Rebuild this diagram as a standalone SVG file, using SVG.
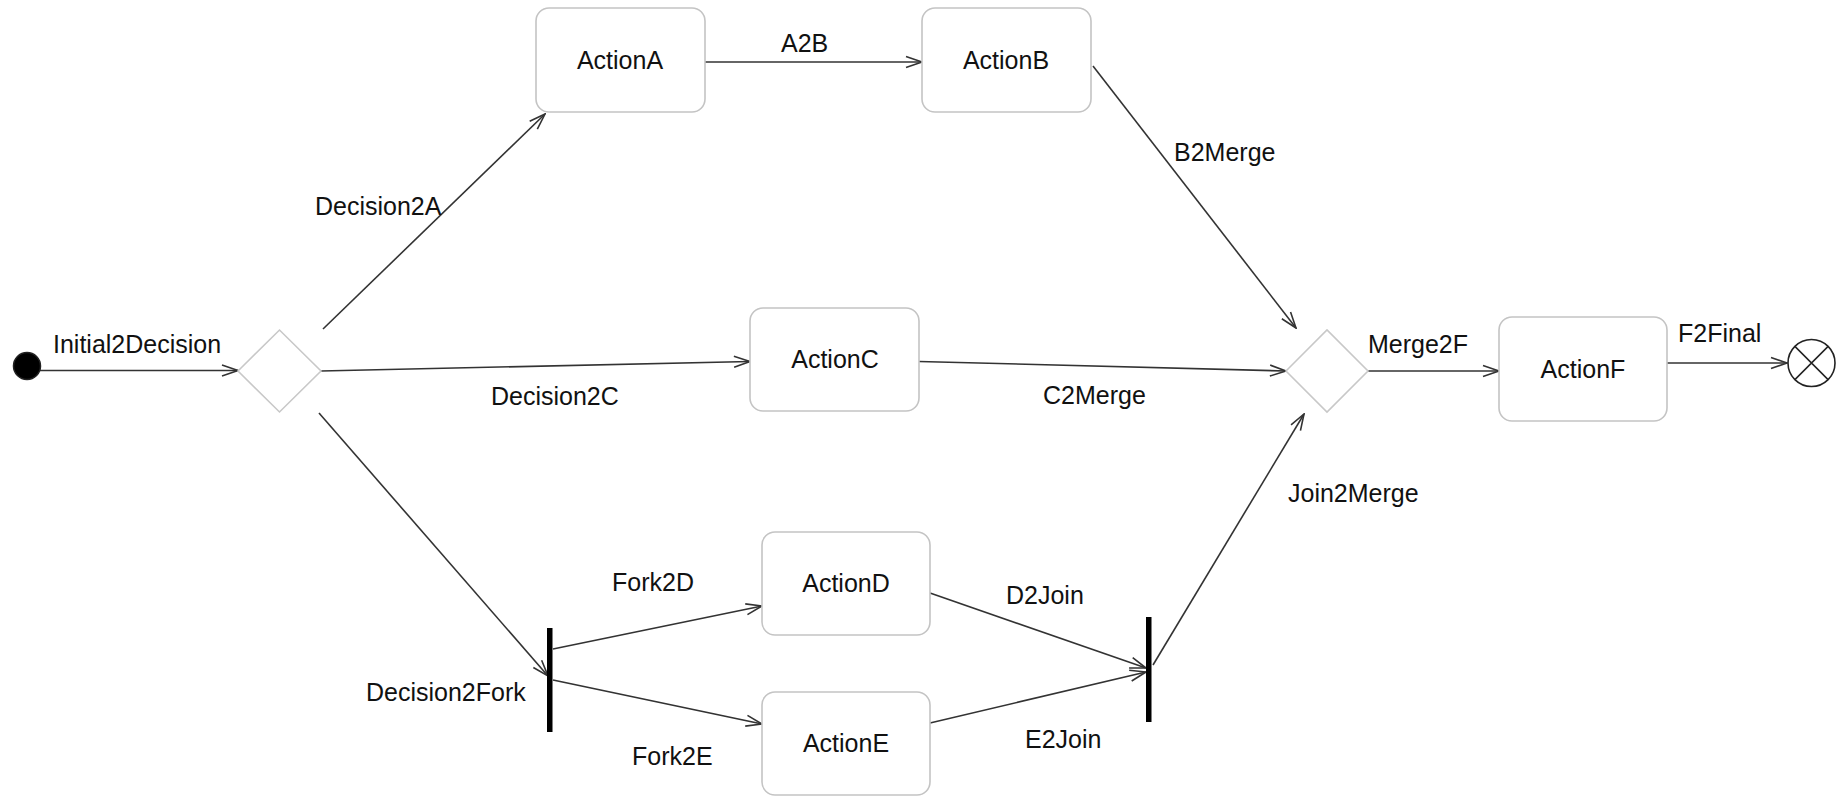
<svg xmlns="http://www.w3.org/2000/svg" width="1841" height="796" viewBox="0 0 1841 796">
<style>
.box{fill:#fff;stroke:#c4c4c4;stroke-width:1.6}
.dia{fill:#fff;stroke:#c8c8c8;stroke-width:1.6}
.bar{fill:#000}
.lbl{font-family:"Liberation Sans",Arial,sans-serif;font-size:25px;fill:#111}
.ctr{text-anchor:middle}
.edge{fill:none;stroke:#333;stroke-width:1.6;marker-end:url(#arr)}
</style>
<defs>
<marker id="arr" markerWidth="18" markerHeight="14" viewBox="-17 -7 18 14" refX="0" refY="0" orient="auto" markerUnits="userSpaceOnUse">
<path d="M-16,-5.5 L0,0 L-16,5.5" fill="none" stroke="#333" stroke-width="1.6"/>
</marker>
</defs>
<rect width="1841" height="796" fill="#fff"/>

<g id="connectors">
<g id="e-initial2decision"><line class="edge" x1="40" y1="370.5" x2="238" y2="370.5"/><text class="lbl" x="53" y="353">Initial2Decision</text></g>
<g id="e-decision2a"><line class="edge" x1="323" y1="329" x2="545" y2="114"/><text class="lbl" x="315" y="215">Decision2A</text></g>
<g id="e-decision2c"><line class="edge" x1="321" y1="371" x2="750" y2="361.5"/><text class="lbl" x="491" y="405">Decision2C</text></g>
<g id="e-decision2fork"><line class="edge" x1="319" y1="413" x2="548" y2="676"/><text class="lbl" x="366" y="701">Decision2Fork</text></g>
<g id="e-a2b"><line class="edge" x1="705" y1="62" x2="922" y2="62"/><text class="lbl" x="781" y="52">A2B</text></g>
<g id="e-b2merge"><line class="edge" x1="1093" y1="66" x2="1296" y2="328"/><text class="lbl" x="1174" y="161">B2Merge</text></g>
<g id="e-c2merge"><line class="edge" x1="919" y1="361.5" x2="1286" y2="371"/><text class="lbl" x="1043" y="404">C2Merge</text></g>
<g id="e-fork2d"><line class="edge" x1="553" y1="649" x2="762" y2="606"/><text class="lbl" x="612" y="591">Fork2D</text></g>
<g id="e-fork2e"><line class="edge" x1="553" y1="680" x2="762" y2="724"/><text class="lbl" x="632" y="765">Fork2E</text></g>
<g id="e-d2join"><line class="edge" x1="930" y1="593" x2="1146" y2="668"/><text class="lbl" x="1006" y="604">D2Join</text></g>
<g id="e-e2join"><line class="edge" x1="930" y1="723" x2="1146" y2="672"/><text class="lbl" x="1025" y="748">E2Join</text></g>
<g id="e-join2merge"><line class="edge" x1="1153" y1="665" x2="1304" y2="414"/><text class="lbl" x="1288" y="502">Join2Merge</text></g>
<g id="e-merge2f"><line class="edge" x1="1368" y1="371" x2="1499" y2="371"/><text class="lbl" x="1368" y="353">Merge2F</text></g>
<g id="e-f2final"><line class="edge" x1="1667" y1="363" x2="1787" y2="363"/><text class="lbl" x="1678" y="342">F2Final</text></g>
</g>

<g id="initial"><circle cx="27" cy="366" r="13.5" fill="#000" stroke="#222" stroke-width="1.5"/></g>
<g id="decision"><polygon class="dia" points="238,371 279.5,330 321,371 279.5,412"/></g>
<g id="merge"><polygon class="dia" points="1286,371 1327,330 1368,371 1327,412"/></g>
<g id="actionA"><rect class="box" x="536" y="8" width="169" height="104" rx="13"/><text class="lbl ctr" x="620" y="69">ActionA</text></g>
<g id="actionB"><rect class="box" x="922" y="8" width="169" height="104" rx="13"/><text class="lbl ctr" x="1006" y="69">ActionB</text></g>
<g id="actionC"><rect class="box" x="750" y="308" width="169" height="103" rx="13"/><text class="lbl ctr" x="835" y="368">ActionC</text></g>
<g id="actionD"><rect class="box" x="762" y="532" width="168" height="103" rx="13"/><text class="lbl ctr" x="846" y="592">ActionD</text></g>
<g id="actionE"><rect class="box" x="762" y="692" width="168" height="103" rx="13"/><text class="lbl ctr" x="846" y="752">ActionE</text></g>
<g id="actionF"><rect class="box" x="1499" y="317" width="168" height="104" rx="13"/><text class="lbl ctr" x="1583" y="378">ActionF</text></g>
<g id="fork"><rect class="bar" x="547" y="628" width="5.5" height="104"/></g>
<g id="join"><rect class="bar" x="1146" y="617" width="5.5" height="105"/></g>
<g id="final"><circle cx="1811.5" cy="363" r="23.5" fill="#fff" stroke="#222" stroke-width="1.6"/><path d="M1794.9,346.4 L1828.1,379.6 M1828.1,346.4 L1794.9,379.6" stroke="#222" stroke-width="1.5"/></g>
</svg>
